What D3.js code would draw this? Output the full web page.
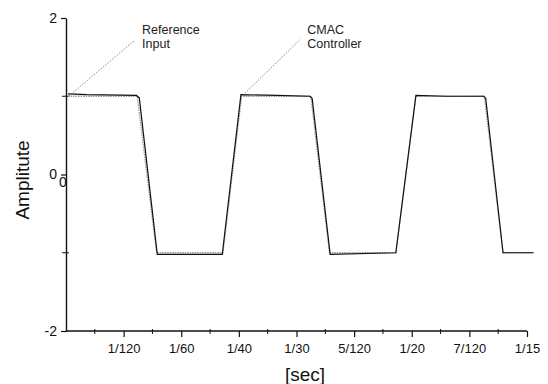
<!DOCTYPE html>
<html>
<head>
<meta charset="utf-8">
<script src="https://cdn.jsdelivr.net/npm/d3@7"></script>
<style>
  body { margin: 0; background: #fff; }
  svg { display: block; font-family: "Liberation Sans", Arial, sans-serif; }
</style>
</head>
<body>
<div id="chart"></div>
<script>
// temps en ms, amplitude
const refT   = [0.3, 10.3, 13.1, 22.7, 25.4, 35.4, 38.1, 47.7, 50.6, 60.5, 63.2, 67.6];
const refV   = [1.0, 1.0, -1.0, -1.0, 1.0, 1.0, -1.0, -1.0, 1.0, 1.0, -1.0, -1.0];
const cmacT  = [0.3, 3.0, 10.2, 10.6, 13.2, 22.6, 25.3, 30.5, 35.3, 35.6, 38.2, 47.7, 50.6, 55.0, 60.4, 60.7, 63.2, 67.6];
const cmacV  = [1.03, 1.02, 1.01, 0.98, -1.02, -1.02, 1.02, 1.01, 1.0, 0.97, -1.02, -1.0, 1.01, 1.0, 1.0, 0.97, -1.0, -1.0];

const xTickVals  = [1, 2, 3, 4, 5, 6, 7, 8].map(k => 1000 * k / 120);
const xTickLabels = ["1/120", "1/60", "1/40", "1/30", "5/120", "1/20", "7/120", "1/15"];
const yMajor = [-2, 0, 2];
const yMinor = [-1, 1];

// annotations : point d'ancrage, bout du trait, texte
const notes = [
  { at: [0.4, 1.0], end: [10.0, 1.72], txt: [11.0, 1.8], lines: ["Reference", "Input"] },
  { at: [25.9, 1.04], end: [33.8, 1.72], txt: [34.9, 1.8], lines: ["CMAC", "Controller"] }
];

const W = 548, H = 384;
const margin = { top: 18, right: 21, bottom: 53, left: 66 };

const x = d3.scaleLinear().domain([0, 1000 / 15]).range([margin.left, W - margin.right]);
const y = d3.scaleLinear().domain([-2, 2]).range([H - margin.bottom, margin.top]);

const svg = d3.select("#chart").append("svg")
  .attr("width", W).attr("height", H);

// Axes
const gx = svg.append("g")
  .attr("transform", `translate(0,${y(-2)})`)
  .call(d3.axisBottom(x).tickValues(xTickVals).tickFormat((d, i) => xTickLabels[i])
    .tickSize(6).tickSizeOuter(0).tickPadding(7));
gx.select(".domain").attr("stroke", "#111").attr("stroke-width", 1.4)
  .attr("d", `M${x(0)},0H${x(1000 / 15)}`);
gx.selectAll(".tick line").attr("stroke", "#111").attr("stroke-width", 1.2);
gx.selectAll(".tick text").attr("font-size", 13).attr("fill", "#111");
// petites graduations
svg.append("g").selectAll("line")
  .data(xTickVals.map(v => v - 1000 / 240))
  .join("line")
    .attr("x1", d => x(d)).attr("x2", d => x(d))
    .attr("y1", y(-2) - 2).attr("y2", y(-2) + 3)
    .attr("stroke", "#111").attr("stroke-width", 1);

const gy = svg.append("g")
  .attr("transform", `translate(${x(0)},0)`)
  .call(d3.axisLeft(y).tickValues(yMajor).tickFormat(d3.format("d"))
    .tickSize(5).tickSizeOuter(0).tickPadding(4));
gy.select(".domain").attr("stroke", "#111").attr("stroke-width", 1.4);
gy.selectAll(".tick line").attr("stroke", "#111").attr("stroke-width", 1.2);
gy.selectAll(".tick text").attr("font-size", 14).attr("fill", "#111")
  .text(d => d < 0 ? "-" + Math.abs(d) : d);
svg.append("g").selectAll("line")
  .data(yMinor)
  .join("line")
    .attr("x1", x(0) - 4).attr("x2", x(0) + 3)
    .attr("y1", d => y(d)).attr("y2", d => y(d))
    .attr("stroke", "#111").attr("stroke-width", 1);
// "0" doublé visible sur l'original
svg.append("text")
  .attr("x", x(0) - 3).attr("y", y(0) + 12)
  .attr("text-anchor", "middle").attr("font-size", 14).attr("fill", "#111")
  .text("0");

// Courbes
const line = d3.line().x(d => x(d[0])).y(d => y(d[1]));
svg.append("path")
  .datum(refT.map((t, i) => [t, refV[i]]))
  .attr("d", line).attr("fill", "none")
  .attr("stroke", "#999").attr("stroke-width", 1.3).attr("stroke-dasharray", "1.5,1");
svg.append("path")
  .datum(cmacT.map((t, i) => [t, cmacV[i]]))
  .attr("d", line).attr("fill", "none")
  .attr("stroke", "#111").attr("stroke-width", 1.2);

// Annotations
notes.forEach(n => {
  svg.append("line")
    .attr("x1", x(n.at[0])).attr("y1", y(n.at[1]))
    .attr("x2", x(n.end[0])).attr("y2", y(n.end[1]))
    .attr("stroke", "#777").attr("stroke-width", 0.9).attr("stroke-dasharray", "1.5,1.5");
  const t = svg.append("text")
    .attr("x", x(n.txt[0])).attr("y", y(n.txt[1]))
    .attr("font-size", 12.5).attr("fill", "#222");
  n.lines.forEach((s, i) => t.append("tspan")
    .attr("x", x(n.txt[0])).attr("dy", i ? 14 : 0).text(s));
});

// Titres d'axes
svg.append("text")
  .attr("x", 305).attr("y", 381)
  .attr("text-anchor", "middle").attr("font-size", 19).attr("fill", "#111")
  .text("[sec]");
svg.append("text")
  .attr("transform", `translate(29,180) rotate(-90)`)
  .attr("text-anchor", "middle").attr("font-size", 19).attr("fill", "#111")
  .text("Amplitute");
</script>
</body>
</html>
